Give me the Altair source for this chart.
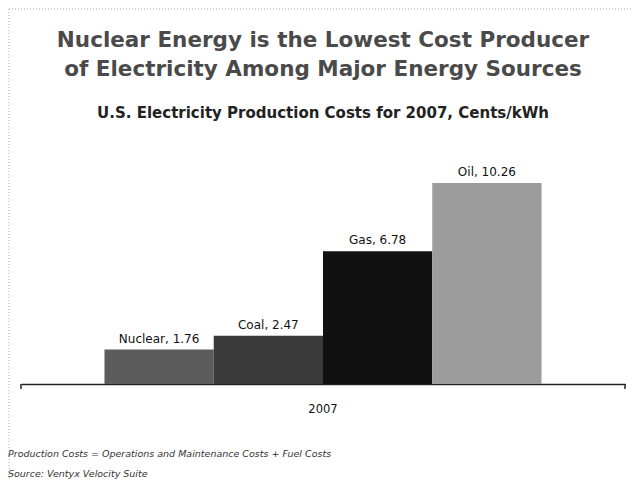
import altair as alt
import pandas as pd

sources = ["Nuclear", "Coal", "Gas", "Oil"]
costs = [1.76, 2.47, 6.78, 10.26]
colors = ["#5c5c5c", "#3a3a3a", "#111111", "#9c9c9c"]
year = "2007"

title_lines = ["Nuclear Energy is the Lowest Cost Producer",
               "of Electricity Among Major Energy Sources"]
subtitle = "U.S. Electricity Production Costs for 2007, Cents/kWh"
notes = ["Production Costs = Operations and Maintenance Costs + Fuel Costs",
         "Source: Ventyx Velocity Suite"]

W, H = 604, 235

df = pd.DataFrame({
    "year": [year] * len(sources),
    "source": sources,
    "cost": costs,
    "label": [f"{s}, {c:.2f}" for s, c in zip(sources, costs)],
})

x = alt.X("year:N", title=None,
          scale=alt.Scale(paddingOuter=0.191, paddingInner=0),
          axis=alt.Axis(labelAngle=0, ticks=False, domainColor="#222222", domainWidth=1.5,
                        labelFontSize=11.5, labelFont="DejaVu Sans", labelColor="#111111",
                        labelPadding=19))
xo = alt.XOffset("source:N", sort=sources, scale=alt.Scale(paddingInner=0, paddingOuter=0))
y = alt.Y("cost:Q", scale=alt.Scale(domain=[0, 12]), axis=None)

bars = alt.Chart(df).mark_bar().encode(
    x=x, xOffset=xo, y=y,
    color=alt.Color("source:N", sort=sources,
                    scale=alt.Scale(domain=sources, range=colors), legend=None),
)
labels = alt.Chart(df).mark_text(baseline="bottom", dy=-4, fontSize=12,
                                 font="DejaVu Sans", color="#111111").encode(
    x=x, xOffset=xo, y=y, text="label:N")

def txt(s, xv, yv, **kw):
    return alt.Chart(pd.DataFrame({"t": [s]})).mark_text(**kw).encode(
        x=alt.value(xv), y=alt.value(yv), text="t:N")

def rule(x1, x2, y1, y2, **kw):
    return alt.Chart(pd.DataFrame({"a": [0]})).mark_rule(**kw).encode(
        x=alt.value(x1), x2=alt.value(x2), y=alt.value(y1), y2=alt.value(y2))

t1 = txt(title_lines[0], W / 2, -108, fontSize=21.5, font="DejaVu Sans", fontWeight="bold",
         color="#4a4a4a", align="center", baseline="middle")
t2 = txt(title_lines[1], W / 2, -79, fontSize=21.5, font="DejaVu Sans", fontWeight="bold",
         color="#4a4a4a", align="center", baseline="middle")
st = txt(subtitle, W / 2, -36, fontSize=15, font="DejaVu Sans", fontWeight="bold",
         color="#222222", align="center", baseline="middle")
n1 = txt(notes[0], -13, 305, fontSize=9.5, font="DejaVu Sans", fontStyle="italic",
         color="#333333", align="left", baseline="middle")
n2 = txt(notes[1], -13, 325, fontSize=9.5, font="DejaVu Sans", fontStyle="italic",
         color="#333333", align="left", baseline="middle")

# decorative frame (dotted) and axis end ticks
bl = rule(-12, -12, -140, 330, color="#aaaaaa", strokeDash=[1, 2])
bt = rule(-12, 612, -140, -140, color="#aaaaaa", strokeDash=[1, 2])
tk1 = rule(0, 0, H, H + 5, color="#222222", strokeWidth=1.5)
tk2 = rule(W, W, H, H + 5, color="#222222", strokeWidth=1.5)

chart = alt.layer(bars, labels, t1, t2, st, n1, n2, bl, bt, tk1, tk2).properties(
    width=W, height=H,
    autosize=alt.AutoSizeParams(type="none"),
    padding={"left": 13, "top": 141, "right": 9, "bottom": 95},
).configure(background="white").configure_view(strokeWidth=0)

chart.save("out.html", embed_options={"renderer": "svg", "actions": False})
